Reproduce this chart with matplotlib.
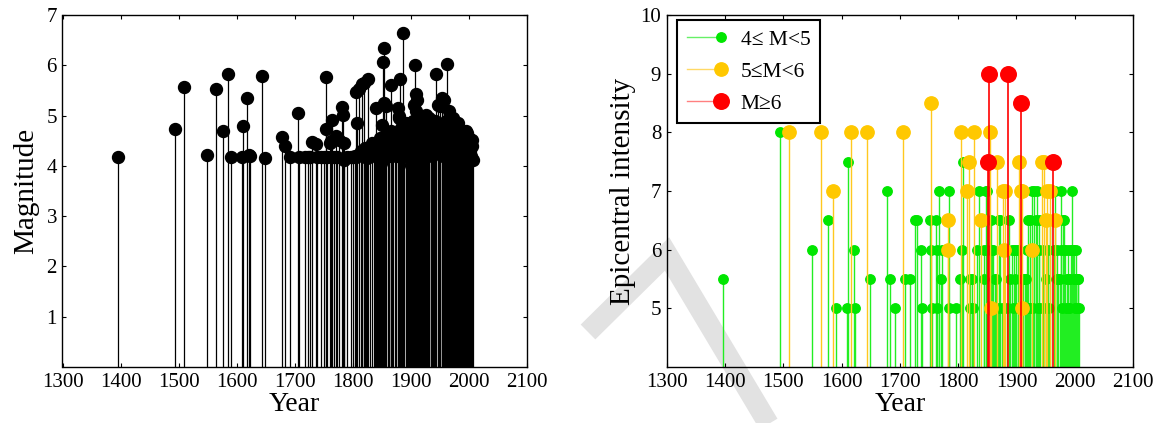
import numpy as np
import matplotlib
matplotlib.use("Agg")
import matplotlib.pyplot as plt
from matplotlib.lines import Line2D
from matplotlib.legend_handler import HandlerBase

# Earthquake catalogue: year, magnitude, epicentral intensity (nan = not assessed)
years = [
    1396, 1494, 1509, 1549, 1564, 1577, 1585, 1590, 1609, 1611, 1617, 1621, 1623,
    1643, 1649, 1678, 1683, 1692, 1706, 1708, 1717, 1722, 1726, 1730, 1736, 1738,
    1745, 1751, 1753, 1754, 1756, 1760, 1762, 1763, 1764, 1767, 1771, 1773, 1776,
    1782, 1783, 1784, 1785, 1790, 1797, 1801, 1804, 1805, 1806, 1808, 1811, 1814,
    1815, 1819, 1820, 1821, 1823, 1825, 1827, 1830, 1833, 1836, 1838, 1840, 1842,
    1844, 1845, 1847, 1849, 1850, 1852, 1853, 1854, 1856, 1857, 1858, 1860, 1862,
    1863, 1865, 1866, 1868, 1870, 1872, 1874, 1875, 1877, 1879, 1880, 1881, 1883,
    1884, 1886, 1887, 1889, 1891, 1892, 1894, 1895, 1897, 1899, 1900, 1902, 1903,
    1905, 1907, 1908, 1909, 1910, 1911, 1912, 1914, 1915, 1917, 1919, 1920, 1921,
    1923, 1924, 1926, 1927, 1929, 1930, 1931, 1932, 1934, 1935, 1937, 1938, 1939,
    1941, 1942, 1944, 1946, 1947, 1948, 1950, 1951, 1953, 1954, 1956, 1957, 1958,
    1960, 1962, 1964, 1966, 1967, 1969, 1970, 1972, 1973, 1975, 1976, 1977, 1978,
    1980, 1981, 1982, 1983, 1984, 1985, 1986, 1988, 1989, 1990, 1991, 1992, 1993,
    1994, 1995, 1996, 1997, 1998, 1999, 2000, 2001, 2002, 2003, 2004, 2005, 2006,
    2007,
]
magnitude = [
    4.18, 4.74, 5.56, 4.22, 5.52, 4.69, 5.82, 4.17, 4.18, 4.80, 5.34, 4.21, 4.19,
    5.78, 4.16, 4.57, 4.39, 4.17, 5.05, 4.17, 4.17, 4.17, 4.17, 4.47, 4.44, 4.17,
    4.17, 4.17, 5.76, 4.74, 4.17, 4.45, 4.50, 4.17, 4.91, 4.17, 4.60, 4.17, 4.52,
    5.17, 5.02, 4.46, 4.11, 4.17, 4.17, 4.17, 4.20, 5.46, 4.17, 4.86, 5.52, 4.30,
    5.62, 5.65, 4.20, 4.35, 4.25, 4.15, 5.73, 4.20, 4.45, 4.40, 4.30, 5.16, 4.45,
    4.15, 4.47, 4.55, 4.05, 4.82, 6.07, 6.35, 5.25, 4.35, 5.19, 4.30, 4.60, 4.20,
    4.40, 4.70, 5.60, 4.25, 4.50, 4.30, 4.65, 4.20, 5.16, 5.00, 4.95, 5.72, 4.75,
    4.60, 6.65, 4.72, 4.45, 4.30, 4.85, 4.40, 4.60, 4.15, 4.70, 4.02, 4.55, 4.90,
    5.22, 6.00, 5.42, 5.10, 5.30, 4.65, 4.80, 4.50, 4.90, 4.60, 4.35, 4.90, 4.40,
    4.70, 4.20, 5.02, 4.85, 4.40, 4.80, 4.60, 4.95, 4.50, 4.30, 4.20, 4.75, 4.60,
    4.30, 4.90, 5.82, 4.70, 5.22, 4.40, 5.20, 4.55, 5.35, 4.80, 4.20, 5.30, 4.65,
    4.90, 6.02, 4.60, 5.10, 4.85, 4.30, 4.70, 4.50, 4.95, 4.40, 4.80, 4.75, 4.00,
    4.60, 4.85, 4.10, 4.70, 4.55, 4.00, 4.70, 4.05, 4.60, 4.45, 4.20, 4.60, 4.40,
    4.35, 4.70, 4.65, 4.10, 4.30, 4.55, 4.55, 4.40, 4.30, 4.20, 4.12, 4.40, 4.52,
    4.12,
]
nan = float("nan")
intensity = [
    5.5, 8.0, 8.0, 6.0, 8.0, 6.5, 7.0, 5.0, 5.0, 7.5, 8.0, 6.0, 5.0,
    8.0, 5.5, 7.0, 5.5, 5.0, 8.0, 5.5, 5.5, nan, 6.5, 6.5, 6.0, 5.0,
    nan, 6.5, 8.5, 6.0, 5.0, nan, 6.5, 6.0, 5.0, 7.0, 5.5, 6.0, nan,
    6.5, 6.0, 7.0, 5.0, nan, 5.0, nan, 5.5, 8.0, 6.0, 7.5, nan, nan,
    7.0, 7.5, 5.5, 5.0, 5.5, 5.0, 8.0, nan, 6.0, 7.0, nan, 6.5, nan,
    5.5, 6.0, 7.0, 7.0, 6.0, 7.5, 9.0, 8.0, 6.5, 5.0, 6.0, 6.0, 5.0,
    5.5, 5.5, 7.5, 5.0, 6.5, 6.5, nan, 5.0, 7.0, 6.0, nan, 7.0, 5.0,
    nan, 9.0, 6.5, 5.5, nan, 6.0, 5.0, 6.0, 5.5, nan, 6.0, 5.0, 6.0,
    7.5, 8.5, 7.0, 5.0, 7.0, 5.5, nan, 5.5, 5.0, 5.5, 6.0, 6.5, 5.0,
    6.5, 5.0, 6.0, 7.0, 5.0, 7.0, 6.0, nan, 6.5, 7.0, 5.0, 6.5, 6.0,
    5.0, nan, 7.5, 6.0, 7.5, 5.0, 6.5, 5.5, 7.0, 6.0, 5.0, 7.0, 6.5,
    nan, 7.5, 6.0, 6.5, 7.0, 5.5, 6.0, 5.5, nan, 5.5, 6.0, 7.0, 5.0,
    6.5, 6.5, 6.0, nan, 6.0, 5.0, 5.5, 5.5, 6.0, 5.0, 5.0, 5.5, nan,
    6.0, 6.0, 7.0, 6.0, 6.0, 5.5, 5.5, 5.0, 5.5, 6.0, 5.0, 5.5, 5.5,
    5.0,
]

year_ticks = list(range(1300, 2101, 100))
mag_ticks = [1, 2, 3, 4, 5, 6, 7]
int_ticks = [5, 6, 7, 8, 9, 10]

# Magnitude classes: label, lower bound, upper bound, marker colour, stem colour,
# legend line colour, marker size
classes = [
    ("4\u2264 M<5", 4.0, 5.0, "#00e600", "#22ee22", "#66f066", 6.8),
    ("5\u2264M<6", 5.0, 6.0, "#ffc800", "#ffc81e", "#ffd966", 9.6),
    ("M\u22656", 6.0, 10.0, "#ff0000", "#ff0000", "#ff8080", 11.2),
]

plt.rcParams["font.family"] = ["Liberation Serif", "DejaVu Serif"]

W, H = 1164, 423
fig = plt.figure(figsize=(W / 100, H / 100), dpi=100)


def px_axes(x0, x1, ytop, ybot):
    return [x0 / W, 1 - ybot / H, (x1 - x0) / W, (ybot - ytop) / H]


ax1 = fig.add_axes(px_axes(62.5, 527, 15, 367))
ax2 = fig.add_axes(px_axes(666.7, 1133, 15, 367))

# faint chevron stroke lying behind the right-hand panel
wm_x = np.array([588, 667, 790]) / W
wm_y = 1 - np.array([332, 254, 460]) / H
fig.add_artist(Line2D(wm_x, wm_y, transform=fig.transFigure, color="#e2e2e2",
                      lw=15, solid_joinstyle="miter", solid_capstyle="butt",
                      zorder=-5))

yr = np.asarray(years, dtype=float)
mg = np.asarray(magnitude, dtype=float)
it = np.asarray(intensity, dtype=float)

# --- left panel: magnitude stems ---
ax1.set_facecolor("white")
ax1.vlines(yr, 0, mg, colors="black", lw=0.9, zorder=2)
ax1.plot(yr, mg, ls="none", marker="o", ms=8.6, mfc="black", mec="black", zorder=3)
ax1.set_xlim(1300, 2100)
ax1.set_ylim(0, 7)
ax1.set_xticks(year_ticks)
ax1.set_yticks(mag_ticks)
ax1.set_xlabel("Year", fontsize=20, labelpad=0)
ax1.set_ylabel("Magnitude", fontsize=21, labelpad=5)

# --- right panel: epicentral intensity stems coloured by magnitude class ---
ax2.set_facecolor("none")
handles = []
for k, (label, lo, hi, mcol, scol, lcol, ms) in enumerate(classes):
    sel = (mg >= lo) & (mg < hi) & ~np.isnan(it)
    lw = 1.2 if k == 2 else 1.0
    ax2.vlines(yr[sel], 0, it[sel], colors=scol, lw=lw, zorder=2 + 2 * k)
    ax2.plot(yr[sel], it[sel], ls="none", marker="o", ms=ms, mfc=mcol, mec=mcol,
             zorder=3 + 2 * k)
    handles.append(Line2D([], [], color=lcol, lw=1.0, marker="o", ms=ms,
                          mfc=mcol, mec=mcol, label=label))
ax2.set_xlim(1300, 2100)
ax2.set_ylim(4, 10)
ax2.set_xticks(year_ticks)
ax2.set_yticks(int_ticks)
ax2.set_xlabel("Year", fontsize=20, labelpad=0)
ax2.set_ylabel("Epicentral intensity", fontsize=21, labelpad=3)


class StemLegendHandler(HandlerBase):
    """Legend entry drawn as a line with the marker sitting at its right end."""

    def create_artists(self, legend, orig_handle, xdescent, ydescent, width,
                       height, fontsize, trans):
        y = 0.5 * height - ydescent
        x0, x1 = -xdescent, width - xdescent
        line = Line2D([x0, x1], [y, y], color=orig_handle.get_color(),
                      lw=orig_handle.get_linewidth())
        dot = Line2D([x1], [y], ls="none", marker="o",
                     ms=orig_handle.get_markersize(),
                     mfc=orig_handle.get_markerfacecolor(),
                     mec=orig_handle.get_markeredgecolor())
        line.set_transform(trans)
        dot.set_transform(trans)
        return [line, dot]


leg = ax2.legend(handles=handles, loc="upper left",
                 bbox_to_anchor=((677.3 - 666.7) / 466.3, (367 - 20) / 352),
                 borderaxespad=0, fontsize=15.5, handlelength=1.6,
                 handletextpad=0.9, labelspacing=0.55, borderpad=0.45,
                 fancybox=False, framealpha=1, edgecolor="black",
                 handler_map={Line2D: StemLegendHandler()})
leg.get_frame().set_linewidth(1.5)
leg.set_zorder(10)

for ax in (ax1, ax2):
    ax.tick_params(direction="in", length=3, width=0.8, top=True, right=True,
                   labelsize=15, pad=4)
    for sp in ax.spines.values():
        sp.set_linewidth(1.0)
        sp.set_zorder(6)

fig.savefig("out.png", dpi=100)
